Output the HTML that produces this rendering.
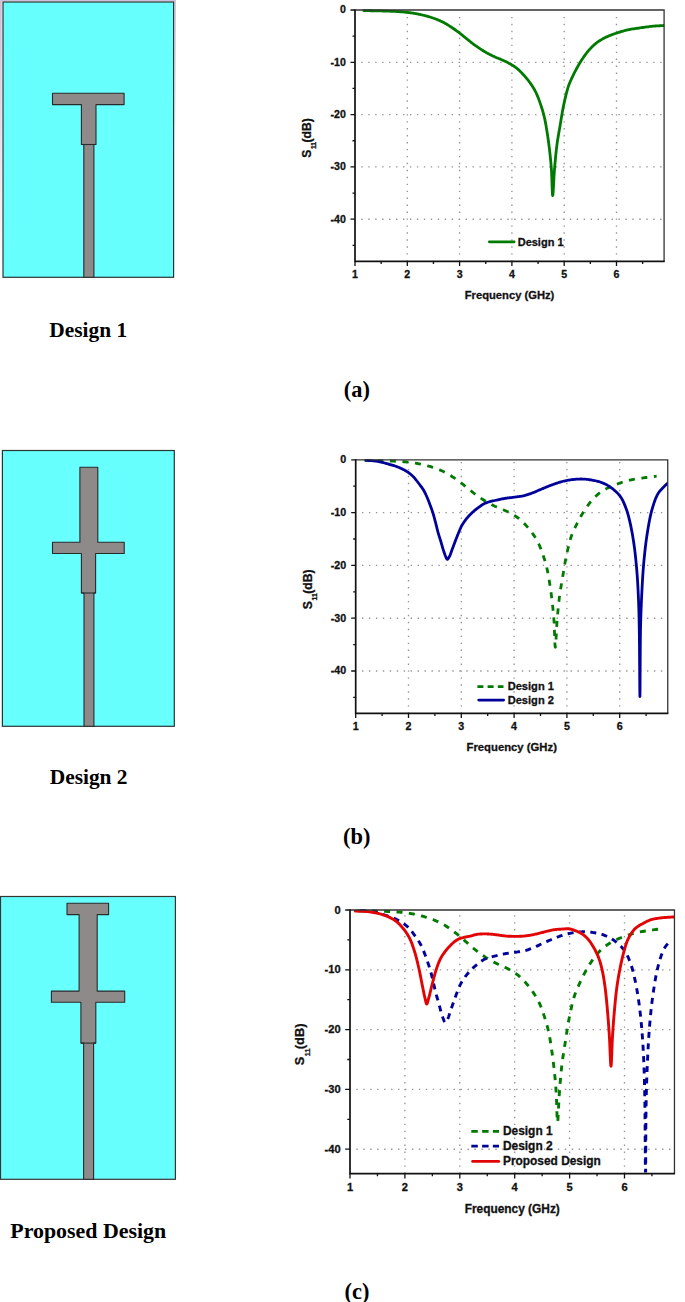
<!DOCTYPE html>
<html><head><meta charset="utf-8"><title>Antenna design evolution</title>
<style>
html,body{margin:0;padding:0;background:#fff;}
body{width:685px;height:1302px;position:relative;overflow:hidden;font-family:"Liberation Sans",sans-serif;}
</style></head><body>
<svg width="685" height="1302" viewBox="0 0 685 1302" style="position:absolute;left:0;top:0">
<defs><linearGradient id="lv" x1="0" y1="0" x2="0" y2="1"><stop offset="0" stop-color="#cdbfd6"/><stop offset="1" stop-color="#ffffff"/></linearGradient></defs>
<rect x="0" y="0" width="176" height="1.4" fill="#cfc2d8"/>
<rect x="0" y="0" width="1.8" height="278" fill="url(#lv)"/>
<rect x="174.3" y="0" width="1.6" height="150" fill="url(#lv)"/>
<rect x="3" y="2" width="170.6" height="275.3" fill="#68ffff" stroke="#2b3535" stroke-width="1.2"/>
<path d="M52.5 93.3 L124.1 93.3 L124.1 104.6 L96 104.6 L96 144.5 L93.9 144.5 L93.9 277.3 L83.8 277.3 L83.8 144.5 L81.4 144.5 L81.4 104.6 L52.5 104.6Z" fill="#8e8a8a" stroke="#2a2a2a" stroke-width="1.1" stroke-linejoin="round"/>
<path d="M81.4 144.5H96" stroke="#2a2a2a" stroke-width="1.1"/>
<rect x="2.4" y="450.5" width="171.9" height="275.8" fill="#68ffff" stroke="#2b3535" stroke-width="1.2"/>
<path d="M79.9 467.3 L97.8 467.3 L97.8 542.2 L124.2 542.2 L124.2 553.5 L95.6 553.5 L95.6 593 L93.9 593 L93.9 726.3 L84 726.3 L84 593 L81.4 593 L81.4 553.5 L52.5 553.5 L52.5 542.2 L79.9 542.2Z" fill="#8e8a8a" stroke="#2a2a2a" stroke-width="1.1" stroke-linejoin="round"/>
<path d="M81.4 593H95.6" stroke="#2a2a2a" stroke-width="1.1"/>
<rect x="0.5" y="896.5" width="174.9" height="282.8" fill="#68ffff" stroke="#3a3535" stroke-width="1.2"/>
<path d="M67 903.2 L108.6 903.2 L108.6 914.6 L97.2 914.6 L97.2 991.1 L124.7 991.1 L124.7 1002.2 L95.8 1002.2 L95.8 1043.1 L93.6 1043.1 L93.6 1179.3 L83.6 1179.3 L83.6 1043.1 L80.9 1043.1 L80.9 1002.2 L51.4 1002.2 L51.4 991.1 L79.1 991.1 L79.1 914.6 L67 914.6Z" fill="#8e8a8a" stroke="#2a2a2a" stroke-width="1.1" stroke-linejoin="round"/>
<path d="M80.9 1043.1H95.8" stroke="#2a2a2a" stroke-width="1.1"/>
<text x="49.3" y="336.7" font-size="21.4" font-family="Liberation Serif" font-weight="bold" fill="#000">Design 1</text>
<text x="49.7" y="783.9" font-size="21.4" font-family="Liberation Serif" font-weight="bold" fill="#000">Design 2</text>
<text x="10.3" y="1237.5" font-size="21.9" font-family="Liberation Serif" font-weight="bold" fill="#000">Proposed Design</text>
<text x="343.8" y="397.2" font-size="22.4" font-family="Liberation Serif" font-weight="bold" fill="#000">(a)</text>
<text x="343" y="844" font-size="22.4" font-family="Liberation Serif" font-weight="bold" fill="#000">(b)</text>
<text x="344.5" y="1298.5" font-size="22.4" font-family="Liberation Serif" font-weight="bold" fill="#000">(c)</text>
<clipPath id="ca"><rect x="355" y="8" width="309.09" height="252.41"/></clipPath>
<path d="M407.3 261.56V12M459.6 261.56V12M511.9 261.56V12M564.2 261.56V12M616.5 261.56V12M361.3 62.3H663.09M361.3 114.6H663.09M361.3 166.9H663.09M361.3 219.2H663.09" stroke="#959595" stroke-width="1.35" stroke-dasharray="1.4 5.55" fill="none"/>
<path d="M363.89 10.63 L365.61 10.66 L367.33 10.68 L369.05 10.71 L370.76 10.73 L372.47 10.76 L374.19 10.79 L375.92 10.82 L377.65 10.85 L379.39 10.89 L381.15 10.94 L383.04 11 L385 11.06 L387.01 11.13 L389.04 11.2 L391.06 11.28 L393.04 11.36 L394.95 11.45 L396.76 11.54 L398.45 11.63 L399.98 11.73 L400.85 11.79 L401.66 11.85 L402.43 11.91 L403.15 11.97 L403.85 12.04 L404.54 12.1 L405.21 12.17 L405.89 12.25 L406.58 12.32 L407.3 12.41 L408.03 12.49 L408.77 12.58 L409.5 12.66 L410.23 12.76 L410.96 12.85 L411.7 12.95 L412.43 13.05 L413.16 13.16 L413.89 13.28 L414.62 13.4 L415.36 13.53 L416.09 13.66 L416.82 13.8 L417.56 13.95 L418.29 14.1 L419.02 14.26 L419.75 14.42 L420.48 14.58 L421.21 14.75 L421.94 14.92 L422.67 15.09 L423.4 15.26 L424.13 15.44 L424.86 15.61 L425.59 15.8 L426.32 15.99 L427.04 16.18 L427.77 16.38 L428.49 16.59 L429.21 16.8 L429.94 17.02 L430.67 17.25 L431.4 17.49 L432.13 17.73 L432.86 17.97 L433.59 18.23 L434.31 18.49 L435.04 18.75 L435.76 19.03 L436.48 19.31 L437.22 19.6 L437.96 19.91 L438.7 20.21 L439.43 20.53 L440.17 20.85 L440.9 21.18 L441.63 21.52 L442.36 21.87 L443.08 22.23 L443.81 22.6 L444.54 23 L445.28 23.41 L446.01 23.83 L446.74 24.26 L447.46 24.7 L448.19 25.15 L448.91 25.6 L449.63 26.06 L450.35 26.53 L451.08 27 L451.81 27.48 L452.55 27.97 L453.29 28.47 L454.02 28.97 L454.76 29.48 L455.49 30 L456.22 30.52 L456.95 31.05 L457.67 31.58 L458.4 32.12 L459.14 32.68 L459.87 33.26 L460.61 33.84 L461.34 34.42 L462.07 35.02 L462.8 35.61 L463.53 36.21 L464.26 36.8 L464.99 37.39 L465.72 37.98 L466.45 38.56 L467.17 39.15 L467.9 39.74 L468.62 40.33 L469.34 40.92 L470.07 41.51 L470.79 42.09 L471.52 42.66 L472.25 43.23 L472.99 43.79 L473.71 44.32 L474.44 44.86 L475.17 45.38 L475.9 45.91 L476.63 46.42 L477.36 46.93 L478.1 47.44 L478.83 47.94 L479.57 48.43 L480.31 48.91 L481.03 49.38 L481.75 49.84 L482.48 50.3 L483.2 50.75 L483.92 51.19 L484.65 51.63 L485.38 52.06 L486.11 52.48 L486.84 52.9 L487.58 53.3 L488.31 53.7 L489.04 54.08 L489.78 54.47 L490.52 54.84 L491.26 55.21 L492 55.57 L492.74 55.92 L493.47 56.26 L494.19 56.59 L494.9 56.91 L495.54 57.19 L496.17 57.46 L496.8 57.71 L497.42 57.96 L498.04 58.2 L498.65 58.44 L499.26 58.68 L499.87 58.92 L500.47 59.17 L501.07 59.42 L501.65 59.68 L502.22 59.93 L502.79 60.18 L503.35 60.44 L503.91 60.7 L504.47 60.96 L505.02 61.22 L505.57 61.49 L506.12 61.76 L506.67 62.04 L507.2 62.31 L507.74 62.58 L508.26 62.86 L508.79 63.14 L509.31 63.42 L509.83 63.7 L510.35 63.99 L510.87 64.29 L511.39 64.6 L511.9 64.91 L512.43 65.25 L512.97 65.59 L513.5 65.94 L514.03 66.29 L514.56 66.65 L515.08 67.02 L515.6 67.4 L516.12 67.78 L516.63 68.17 L517.13 68.58 L517.63 68.99 L518.12 69.41 L518.6 69.84 L519.08 70.27 L519.55 70.71 L520.02 71.17 L520.5 71.64 L520.99 72.13 L521.48 72.64 L521.99 73.18 L522.69 73.92 L523.41 74.7 L524.15 75.51 L524.9 76.36 L525.66 77.24 L526.42 78.14 L527.17 79.05 L527.91 79.97 L528.63 80.89 L529.32 81.81 L529.99 82.74 L530.65 83.67 L531.31 84.61 L531.95 85.56 L532.57 86.53 L533.19 87.51 L533.79 88.5 L534.37 89.51 L534.94 90.54 L535.49 91.59 L536.05 92.74 L536.6 93.92 L537.13 95.13 L537.64 96.36 L538.13 97.6 L538.6 98.86 L539.07 100.12 L539.52 101.38 L539.97 102.63 L540.4 103.88 L540.83 105.1 L541.23 106.31 L541.63 107.51 L542.02 108.72 L542.39 109.93 L542.76 111.15 L543.11 112.38 L543.46 113.64 L543.79 114.91 L544.12 116.22 L544.47 117.72 L544.8 119.25 L545.12 120.81 L545.43 122.38 L545.72 123.98 L546.01 125.6 L546.29 127.23 L546.56 128.87 L546.83 130.52 L547.1 132.17 L547.38 133.96 L547.66 135.77 L547.93 137.59 L548.19 139.43 L548.44 141.29 L548.69 143.15 L548.93 145.01 L549.16 146.88 L549.39 148.73 L549.61 150.58 L549.82 152.41 L550.02 154.21 L550.21 155.99 L550.4 157.78 L550.58 159.57 L550.76 161.38 L550.92 163.21 L551.08 165.09 L551.24 167.01 L551.39 168.99 L551.55 171.7 L551.7 174.86 L551.83 178.31 L551.95 181.86 L552.06 185.35 L552.18 188.6 L552.29 191.43 L552.41 193.66 L552.55 195.13 L552.69 195.67 L552.85 195.15 L553.01 193.73 L553.18 191.55 L553.35 188.78 L553.53 185.59 L553.71 182.14 L553.9 178.59 L554.1 175.11 L554.31 171.85 L554.52 168.99 L554.74 166.48 L554.95 163.97 L555.18 161.46 L555.41 158.96 L555.64 156.47 L555.89 154 L556.14 151.57 L556.41 149.17 L556.69 146.82 L556.98 144.52 L557.25 142.56 L557.53 140.66 L557.82 138.8 L558.12 136.97 L558.42 135.16 L558.73 133.36 L559.05 131.55 L559.37 129.73 L559.69 127.89 L560.02 126 L560.36 123.95 L560.7 121.88 L561.04 119.78 L561.39 117.66 L561.74 115.54 L562.1 113.42 L562.47 111.3 L562.85 109.2 L563.26 107.13 L563.68 105.08 L564.1 103.12 L564.54 101.13 L564.99 99.12 L565.46 97.11 L565.94 95.13 L566.42 93.2 L566.91 91.34 L567.41 89.56 L567.9 87.89 L568.38 86.36 L568.7 85.42 L569.02 84.54 L569.33 83.72 L569.65 82.94 L569.97 82.19 L570.29 81.45 L570.62 80.72 L570.96 79.97 L571.31 79.21 L571.68 78.41 L572.1 77.49 L572.55 76.54 L573.01 75.58 L573.49 74.62 L573.97 73.65 L574.46 72.68 L574.95 71.73 L575.43 70.79 L575.91 69.88 L576.39 68.99 L576.79 68.25 L577.19 67.52 L577.58 66.8 L577.98 66.1 L578.37 65.41 L578.77 64.72 L579.17 64.04 L579.57 63.36 L579.99 62.68 L580.41 61.99 L580.86 61.28 L581.31 60.57 L581.76 59.85 L582.22 59.14 L582.69 58.44 L583.17 57.73 L583.65 57.03 L584.13 56.34 L584.62 55.66 L585.12 54.98 L585.61 54.32 L586.11 53.66 L586.61 53.01 L587.11 52.37 L587.62 51.73 L588.14 51.09 L588.67 50.46 L589.21 49.84 L589.77 49.22 L590.35 48.6 L590.99 47.93 L591.64 47.27 L592.31 46.61 L592.99 45.95 L593.68 45.29 L594.4 44.65 L595.12 44.02 L595.87 43.4 L596.63 42.8 L597.41 42.22 L598.26 41.62 L599.14 41.03 L600.05 40.46 L600.97 39.9 L601.91 39.36 L602.86 38.83 L603.82 38.32 L604.79 37.83 L605.76 37.35 L606.72 36.88 L607.67 36.44 L608.63 36.02 L609.59 35.62 L610.55 35.24 L611.52 34.86 L612.5 34.5 L613.49 34.15 L614.48 33.8 L615.49 33.46 L616.5 33.12 L617.58 32.76 L618.67 32.4 L619.77 32.05 L620.88 31.7 L622 31.37 L623.12 31.04 L624.25 30.73 L625.39 30.43 L626.54 30.14 L627.69 29.87 L628.89 29.62 L630.11 29.38 L631.33 29.16 L632.56 28.96 L633.79 28.77 L635.03 28.59 L636.28 28.41 L637.53 28.24 L638.78 28.06 L640.04 27.89 L641.33 27.7 L642.64 27.51 L643.96 27.33 L645.29 27.15 L646.62 26.97 L647.94 26.8 L649.26 26.64 L650.56 26.48 L651.85 26.34 L653.11 26.21 L654.25 26.11 L655.37 26.02 L656.47 25.94 L657.57 25.87 L658.66 25.8 L659.74 25.74 L660.83 25.68 L661.91 25.62 L663 25.55 L664.09 25.48" stroke="#007a00" stroke-width="2.8" fill="none" stroke-linejoin="round" stroke-linecap="round" clip-path="url(#ca)"/>
<path d="M355 10H664.09V261.41" stroke="#333" stroke-width="1.3" fill="none"/>
<path d="M355 9.4V261.41H664.69" stroke="#111" stroke-width="1.7" fill="none"/>
<path d="M355 261.41v4.5M407.3 261.41v4.5M459.6 261.41v4.5M511.9 261.41v4.5M564.2 261.41v4.5M616.5 261.41v4.5M381.15 261.41v2.5M433.45 261.41v2.5M485.75 261.41v2.5M538.05 261.41v2.5M590.35 261.41v2.5M642.65 261.41v2.5M355 10h-4.5M355 62.3h-4.5M355 114.6h-4.5M355 166.9h-4.5M355 219.2h-4.5M355 36.15h-2.5M355 88.45h-2.5M355 140.75h-2.5M355 193.05h-2.5M355 245.35h-2.5" stroke="#111" stroke-width="1.3" fill="none"/>
<g font-family="Liberation Sans" font-weight="bold" stroke="#111" stroke-width="0.3" font-size="10.6" fill="#111"><text x="345.9" y="13.32" text-anchor="end">0</text><text x="345.9" y="65.62" text-anchor="end">-10</text><text x="345.9" y="117.92" text-anchor="end">-20</text><text x="345.9" y="170.22" text-anchor="end">-30</text><text x="345.9" y="222.52" text-anchor="end">-40</text><text x="355" y="277.71" text-anchor="middle">1</text><text x="407.3" y="277.71" text-anchor="middle">2</text><text x="459.6" y="277.71" text-anchor="middle">3</text><text x="511.9" y="277.71" text-anchor="middle">4</text><text x="564.2" y="277.71" text-anchor="middle">5</text><text x="616.5" y="277.71" text-anchor="middle">6</text></g>
<text x="509.55" y="298.8" text-anchor="middle" font-family="Liberation Sans" font-weight="bold" stroke="#111" stroke-width="0.3" font-size="11.2" fill="#111">Frequency (GHz)</text>
<text transform="translate(310.7 138) rotate(-90)" text-anchor="middle" font-family="Liberation Sans" font-weight="bold" stroke="#111" stroke-width="0.3" font-size="12.1" fill="#111">S<tspan font-size="6.65" dy="5.08" dx="0.6">11</tspan><tspan dy="-5.08" dx="-0.5">(dB)</tspan></text>
<path d="M489.3 241.8H514.2" stroke="#007a00" stroke-width="2.7" stroke-linecap="round" fill="none"/>
<text x="517.7" y="245.5" font-family="Liberation Sans" font-weight="bold" stroke="#111" stroke-width="0.3" font-size="11" fill="#111">Design 1</text>
<clipPath id="cb"><rect x="355.7" y="457.8" width="312.05" height="254.6"/></clipPath>
<path d="M408.5 713.55V461.8M461.3 713.55V461.8M514.1 713.55V461.8M566.9 713.55V461.8M619.7 713.55V461.8M362 512.6H666.75M362 565.4H666.75M362 618.2H666.75M362 671H666.75" stroke="#959595" stroke-width="1.35" stroke-dasharray="1.4 5.55" fill="none"/>
<path d="M364.68 460.43 L366.42 460.46 L368.15 460.49 L369.88 460.52 L371.61 460.54 L373.34 460.57 L375.08 460.59 L376.82 460.62 L378.57 460.66 L380.33 460.7 L382.1 460.75 L384.01 460.81 L385.99 460.87 L388.02 460.94 L390.07 461.02 L392.1 461.09 L394.1 461.18 L396.03 461.26 L397.86 461.35 L399.56 461.45 L401.11 461.54 L401.99 461.6 L402.81 461.67 L403.58 461.73 L404.31 461.79 L405.02 461.86 L405.71 461.92 L406.39 462 L407.08 462.07 L407.78 462.15 L408.5 462.23 L409.24 462.31 L409.98 462.4 L410.72 462.49 L411.46 462.58 L412.2 462.68 L412.94 462.78 L413.68 462.88 L414.42 462.99 L415.15 463.11 L415.89 463.23 L416.63 463.36 L417.37 463.5 L418.12 463.64 L418.86 463.79 L419.6 463.94 L420.33 464.1 L421.07 464.26 L421.81 464.43 L422.55 464.59 L423.28 464.76 L424.02 464.94 L424.76 465.11 L425.49 465.29 L426.23 465.47 L426.96 465.65 L427.7 465.84 L428.43 466.04 L429.16 466.24 L429.89 466.45 L430.62 466.66 L431.36 466.89 L432.1 467.12 L432.83 467.36 L433.57 467.6 L434.3 467.85 L435.04 468.1 L435.77 468.37 L436.5 468.64 L437.23 468.91 L437.96 469.2 L438.71 469.5 L439.45 469.8 L440.2 470.11 L440.94 470.43 L441.68 470.75 L442.42 471.09 L443.16 471.43 L443.89 471.79 L444.63 472.15 L445.35 472.52 L446.1 472.92 L446.84 473.34 L447.58 473.76 L448.32 474.2 L449.05 474.64 L449.78 475.09 L450.51 475.55 L451.24 476.02 L451.97 476.49 L452.69 476.96 L453.44 477.45 L454.18 477.94 L454.93 478.45 L455.67 478.96 L456.41 479.47 L457.15 479.99 L457.89 480.52 L458.62 481.05 L459.35 481.59 L460.09 482.13 L460.83 482.7 L461.58 483.28 L462.32 483.86 L463.06 484.46 L463.79 485.05 L464.53 485.65 L465.27 486.26 L466 486.86 L466.74 487.46 L467.48 488.05 L468.21 488.64 L468.94 489.23 L469.67 489.83 L470.41 490.42 L471.14 491.02 L471.87 491.61 L472.6 492.19 L473.34 492.77 L474.07 493.35 L474.82 493.91 L475.55 494.45 L476.28 494.99 L477.02 495.52 L477.75 496.05 L478.49 496.57 L479.23 497.09 L479.97 497.6 L480.72 498.1 L481.46 498.59 L482.21 499.08 L482.94 499.55 L483.66 500.02 L484.39 500.48 L485.13 500.94 L485.86 501.38 L486.59 501.83 L487.33 502.26 L488.07 502.69 L488.81 503.11 L489.55 503.52 L490.28 503.91 L491.02 504.31 L491.77 504.69 L492.52 505.07 L493.26 505.44 L494.01 505.8 L494.75 506.16 L495.49 506.5 L496.22 506.84 L496.94 507.16 L497.58 507.44 L498.22 507.71 L498.85 507.97 L499.48 508.22 L500.1 508.46 L500.73 508.7 L501.34 508.94 L501.95 509.19 L502.56 509.44 L503.17 509.7 L503.75 509.95 L504.33 510.21 L504.9 510.46 L505.47 510.72 L506.03 510.98 L506.6 511.25 L507.16 511.51 L507.71 511.78 L508.27 512.06 L508.82 512.34 L509.36 512.61 L509.9 512.89 L510.43 513.16 L510.96 513.44 L511.49 513.73 L512.01 514.02 L512.54 514.31 L513.06 514.61 L513.58 514.92 L514.1 515.24 L514.64 515.58 L515.18 515.92 L515.71 516.27 L516.25 516.63 L516.78 516.99 L517.31 517.36 L517.84 517.74 L518.36 518.13 L518.87 518.53 L519.38 518.94 L519.89 519.36 L520.38 519.78 L520.87 520.21 L521.35 520.65 L521.82 521.09 L522.3 521.55 L522.78 522.03 L523.27 522.52 L523.77 523.04 L524.29 523.58 L524.99 524.33 L525.72 525.11 L526.46 525.94 L527.22 526.8 L527.99 527.68 L528.76 528.59 L529.52 529.51 L530.26 530.44 L530.99 531.37 L531.68 532.29 L532.36 533.23 L533.03 534.17 L533.69 535.13 L534.34 536.09 L534.97 537.06 L535.59 538.05 L536.2 539.05 L536.79 540.07 L537.36 541.11 L537.91 542.17 L538.49 543.33 L539.04 544.52 L539.57 545.74 L540.08 546.98 L540.58 548.24 L541.06 549.51 L541.53 550.78 L541.99 552.05 L542.44 553.32 L542.88 554.58 L543.3 555.81 L543.71 557.03 L544.12 558.24 L544.51 559.46 L544.88 560.68 L545.25 561.91 L545.61 563.16 L545.96 564.43 L546.3 565.72 L546.62 567.04 L546.98 568.55 L547.32 570.09 L547.64 571.66 L547.95 573.26 L548.25 574.87 L548.54 576.5 L548.82 578.15 L549.09 579.81 L549.36 581.47 L549.63 583.14 L549.92 584.94 L550.2 586.77 L550.47 588.61 L550.73 590.47 L550.99 592.34 L551.24 594.22 L551.48 596.1 L551.72 597.98 L551.95 599.86 L552.17 601.73 L552.38 603.57 L552.58 605.39 L552.78 607.19 L552.97 608.99 L553.15 610.8 L553.33 612.63 L553.5 614.48 L553.66 616.37 L553.81 618.31 L553.96 620.31 L554.13 623.04 L554.28 626.24 L554.41 629.72 L554.53 633.31 L554.65 636.83 L554.76 640.1 L554.88 642.96 L555 645.22 L555.13 646.7 L555.28 647.24 L555.44 646.72 L555.61 645.28 L555.78 643.08 L555.95 640.29 L556.13 637.07 L556.31 633.58 L556.51 630 L556.71 626.48 L556.91 623.2 L557.13 620.31 L557.35 617.78 L557.57 615.24 L557.79 612.71 L558.02 610.18 L558.26 607.67 L558.51 605.18 L558.77 602.72 L559.04 600.3 L559.32 597.92 L559.61 595.6 L559.88 593.63 L560.17 591.71 L560.46 589.83 L560.76 587.99 L561.07 586.16 L561.38 584.34 L561.7 582.52 L562.02 580.68 L562.35 578.81 L562.68 576.91 L563.02 574.84 L563.37 572.75 L563.71 570.63 L564.06 568.49 L564.41 566.35 L564.78 564.2 L565.15 562.07 L565.54 559.95 L565.95 557.85 L566.37 555.79 L566.8 553.81 L567.24 551.8 L567.7 549.77 L568.17 547.75 L568.66 545.75 L569.15 543.8 L569.64 541.91 L570.14 540.12 L570.63 538.44 L571.12 536.89 L571.45 535.94 L571.77 535.06 L572.08 534.23 L572.4 533.44 L572.72 532.68 L573.05 531.93 L573.38 531.19 L573.72 530.44 L574.08 529.67 L574.45 528.86 L574.88 527.93 L575.33 526.98 L575.8 526.01 L576.28 525.04 L576.76 524.06 L577.26 523.08 L577.75 522.12 L578.24 521.17 L578.73 520.25 L579.2 519.36 L579.61 518.6 L580.01 517.87 L580.41 517.15 L580.81 516.44 L581.2 515.74 L581.6 515.05 L582.01 514.36 L582.42 513.67 L582.84 512.98 L583.27 512.28 L583.72 511.57 L584.17 510.85 L584.63 510.13 L585.1 509.41 L585.57 508.7 L586.05 507.99 L586.53 507.28 L587.02 506.58 L587.52 505.89 L588.02 505.21 L588.52 504.54 L589.02 503.88 L589.52 503.22 L590.03 502.57 L590.54 501.93 L591.07 501.29 L591.6 500.65 L592.15 500.02 L592.72 499.39 L593.3 498.77 L593.94 498.1 L594.6 497.43 L595.27 496.76 L595.96 496.09 L596.67 495.43 L597.38 494.78 L598.12 494.14 L598.87 493.52 L599.64 492.91 L600.43 492.32 L601.29 491.72 L602.18 491.13 L603.09 490.55 L604.02 489.99 L604.97 489.44 L605.93 488.91 L606.9 488.39 L607.88 487.89 L608.85 487.41 L609.83 486.94 L610.79 486.49 L611.75 486.07 L612.72 485.67 L613.69 485.28 L614.68 484.9 L615.66 484.54 L616.66 484.18 L617.66 483.83 L618.68 483.48 L619.7 483.14 L620.79 482.77 L621.89 482.41 L623 482.06 L624.12 481.71 L625.25 481.37 L626.38 481.04 L627.53 480.73 L628.68 480.42 L629.84 480.13 L631 479.86 L632.21 479.6 L633.44 479.37 L634.67 479.15 L635.91 478.94 L637.16 478.75 L638.41 478.57 L639.67 478.39 L640.93 478.21 L642.19 478.04 L643.46 477.86 L644.76 477.67 L646.07 477.5 L647.39 477.32 L648.71 477.15 L650.03 476.99 L651.36 476.83 L652.69 476.66 L654.01 476.5 L655.34 476.34 L656.66 476.17" stroke="#007a00" stroke-width="2.8" fill="none" stroke-linejoin="round" stroke-linecap="butt" clip-path="url(#cb)" stroke-dasharray="6 6.6"/>
<path d="M365.78 460.28 L366.96 460.38 L368.13 460.47 L369.31 460.55 L370.48 460.63 L371.66 460.72 L372.83 460.81 L374 460.92 L375.17 461.05 L376.34 461.2 L377.51 461.38 L378.69 461.6 L379.87 461.84 L381.06 462.11 L382.25 462.39 L383.44 462.7 L384.62 463.01 L385.78 463.33 L386.93 463.65 L388.07 463.97 L389.18 464.29 L390.16 464.57 L391.13 464.85 L392.09 465.12 L393.04 465.4 L393.97 465.69 L394.9 465.98 L395.82 466.29 L396.73 466.61 L397.63 466.94 L398.52 467.3 L399.38 467.66 L400.24 468.03 L401.09 468.41 L401.94 468.81 L402.77 469.22 L403.6 469.64 L404.4 470.07 L405.19 470.51 L405.96 470.96 L406.7 471.42 L407.36 471.83 L407.99 472.26 L408.6 472.68 L409.2 473.11 L409.79 473.56 L410.36 474.01 L410.93 474.48 L411.5 474.97 L412.06 475.48 L412.62 476.01 L413.23 476.62 L413.83 477.26 L414.43 477.93 L415.01 478.61 L415.59 479.32 L416.16 480.03 L416.73 480.76 L417.3 481.5 L417.86 482.24 L418.43 482.98 L419.02 483.75 L419.61 484.52 L420.2 485.29 L420.79 486.07 L421.37 486.86 L421.95 487.67 L422.52 488.5 L423.08 489.37 L423.64 490.27 L424.18 491.22 L424.85 492.48 L425.52 493.84 L426.18 495.28 L426.83 496.78 L427.47 498.3 L428.09 499.83 L428.69 501.34 L429.26 502.8 L429.8 504.21 L430.31 505.52 L430.67 506.48 L431.01 507.4 L431.34 508.28 L431.64 509.15 L431.94 510 L432.22 510.84 L432.5 511.69 L432.77 512.54 L433.04 513.4 L433.32 514.29 L433.6 515.23 L433.87 516.18 L434.14 517.15 L434.4 518.11 L434.66 519.09 L434.91 520.06 L435.16 521.03 L435.41 521.99 L435.66 522.95 L435.9 523.9 L436.13 524.8 L436.36 525.69 L436.57 526.58 L436.79 527.46 L437 528.34 L437.21 529.22 L437.43 530.09 L437.65 530.97 L437.88 531.84 L438.12 532.72 L438.37 533.59 L438.63 534.46 L438.9 535.32 L439.17 536.19 L439.44 537.05 L439.72 537.91 L440 538.78 L440.28 539.64 L440.55 540.51 L440.81 541.38 L441.08 542.26 L441.34 543.16 L441.6 544.07 L441.85 544.98 L442.11 545.88 L442.37 546.78 L442.62 547.67 L442.88 548.54 L443.14 549.38 L443.4 550.19 L443.62 550.86 L443.84 551.53 L444.06 552.19 L444.28 552.84 L444.5 553.47 L444.72 554.09 L444.94 554.69 L445.17 555.26 L445.39 555.8 L445.62 556.32 L445.78 556.69 L445.95 557.09 L446.11 557.49 L446.27 557.89 L446.43 558.26 L446.6 558.6 L446.77 558.89 L446.94 559.12 L447.12 559.27 L447.31 559.33 L447.51 559.29 L447.73 559.15 L447.95 558.94 L448.17 558.65 L448.4 558.32 L448.64 557.94 L448.86 557.54 L449.09 557.12 L449.31 556.71 L449.53 556.32 L449.82 555.75 L450.1 555.13 L450.37 554.46 L450.64 553.76 L450.9 553.04 L451.16 552.29 L451.42 551.54 L451.68 550.78 L451.95 550.03 L452.22 549.3 L452.51 548.52 L452.8 547.74 L453.09 546.95 L453.39 546.16 L453.68 545.36 L453.98 544.56 L454.27 543.76 L454.57 542.96 L454.87 542.17 L455.18 541.38 L455.48 540.59 L455.78 539.8 L456.09 539.01 L456.39 538.22 L456.7 537.43 L457.01 536.65 L457.33 535.86 L457.64 535.08 L457.96 534.29 L458.29 533.51 L458.62 532.72 L458.95 531.92 L459.27 531.13 L459.6 530.33 L459.94 529.53 L460.28 528.74 L460.64 527.96 L461 527.19 L461.38 526.44 L461.78 525.69 L462.17 524.99 L462.58 524.3 L463 523.62 L463.43 522.95 L463.87 522.29 L464.33 521.63 L464.79 520.99 L465.25 520.35 L465.73 519.72 L466.21 519.09 L466.69 518.49 L467.18 517.89 L467.68 517.31 L468.18 516.73 L468.69 516.16 L469.21 515.59 L469.74 515.04 L470.28 514.48 L470.83 513.94 L471.38 513.39 L471.97 512.84 L472.56 512.29 L473.16 511.74 L473.77 511.21 L474.39 510.67 L475.02 510.15 L475.65 509.63 L476.3 509.12 L476.95 508.61 L477.62 508.11 L478.31 507.59 L479.01 507.07 L479.71 506.55 L480.43 506.04 L481.15 505.53 L481.89 505.04 L482.64 504.57 L483.41 504.12 L484.2 503.7 L485.01 503.31 L485.9 502.93 L486.83 502.58 L487.77 502.27 L488.74 501.98 L489.72 501.71 L490.72 501.46 L491.72 501.22 L492.73 500.98 L493.73 500.75 L494.72 500.51 L495.74 500.26 L496.76 500.02 L497.8 499.79 L498.84 499.57 L499.88 499.35 L500.92 499.14 L501.96 498.94 L502.99 498.75 L504.01 498.57 L505.02 498.4 L505.96 498.25 L506.89 498.11 L507.81 497.98 L508.73 497.86 L509.64 497.75 L510.55 497.64 L511.46 497.53 L512.38 497.42 L513.29 497.31 L514.21 497.18 L515.13 497.06 L516.06 496.94 L516.98 496.82 L517.92 496.71 L518.84 496.59 L519.77 496.46 L520.69 496.32 L521.6 496.17 L522.5 496 L523.39 495.81 L524.23 495.61 L525.05 495.4 L525.86 495.17 L526.66 494.94 L527.45 494.69 L528.25 494.43 L529.05 494.16 L529.86 493.87 L530.68 493.58 L531.52 493.28 L532.5 492.91 L533.5 492.51 L534.51 492.1 L535.52 491.66 L536.55 491.22 L537.58 490.77 L538.62 490.32 L539.65 489.87 L540.69 489.43 L541.71 489 L542.74 488.58 L543.77 488.15 L544.79 487.73 L545.82 487.31 L546.85 486.89 L547.88 486.47 L548.91 486.06 L549.95 485.66 L550.98 485.26 L552.01 484.88 L553.03 484.51 L554.04 484.14 L555.06 483.77 L556.07 483.41 L557.09 483.06 L558.11 482.72 L559.13 482.39 L560.15 482.07 L561.17 481.78 L562.2 481.5 L563.22 481.25 L564.24 481.01 L565.28 480.79 L566.31 480.58 L567.35 480.38 L568.38 480.2 L569.41 480.03 L570.42 479.87 L571.41 479.73 L572.39 479.6 L573.24 479.49 L574.08 479.4 L574.91 479.31 L575.72 479.24 L576.53 479.17 L577.34 479.12 L578.14 479.08 L578.95 479.04 L579.76 479.03 L580.58 479.02 L581.39 479.02 L582.2 479.04 L583.01 479.07 L583.81 479.1 L584.62 479.15 L585.43 479.22 L586.25 479.29 L587.09 479.38 L587.94 479.48 L588.81 479.6 L589.87 479.75 L590.96 479.92 L592.09 480.1 L593.22 480.29 L594.38 480.51 L595.53 480.75 L596.68 481.01 L597.81 481.3 L598.92 481.62 L600.01 481.98 L601.05 482.35 L602.08 482.74 L603.1 483.16 L604.12 483.61 L605.12 484.07 L606.11 484.57 L607.09 485.1 L608.06 485.66 L609.03 486.26 L609.98 486.89 L611.04 487.62 L612.1 488.4 L613.17 489.22 L614.22 490.08 L615.26 490.98 L616.28 491.91 L617.26 492.87 L618.2 493.86 L619.08 494.87 L619.91 495.92 L620.68 496.99 L621.39 498.1 L622.06 499.25 L622.68 500.43 L623.27 501.63 L623.83 502.86 L624.36 504.11 L624.88 505.37 L625.38 506.63 L625.88 507.9 L626.37 509.22 L626.84 510.55 L627.27 511.88 L627.68 513.23 L628.07 514.59 L628.44 515.98 L628.81 517.4 L629.17 518.86 L629.53 520.35 L629.89 521.89 L630.34 523.87 L630.78 525.9 L631.21 528 L631.63 530.16 L632.04 532.36 L632.44 534.59 L632.82 536.86 L633.2 539.16 L633.56 541.48 L633.9 543.8 L634.27 546.46 L634.63 549.17 L634.97 551.94 L635.29 554.74 L635.6 557.57 L635.89 560.42 L636.16 563.28 L636.43 566.13 L636.68 568.97 L636.91 571.79 L637.13 574.58 L637.33 577.36 L637.52 580.14 L637.69 582.91 L637.84 585.69 L637.99 588.48 L638.13 591.27 L638.25 594.07 L638.38 596.89 L638.5 599.72 L638.61 602.61 L638.71 605.44 L638.81 608.24 L638.89 611.03 L638.96 613.86 L639.03 616.75 L639.1 619.73 L639.16 622.85 L639.23 626.13 L639.29 629.6 L639.38 635.82 L639.46 643.42 L639.53 651.93 L639.59 660.87 L639.65 669.75 L639.7 678.1 L639.76 685.43 L639.81 691.26 L639.86 695.11 L639.92 696.5 L639.98 695.11 L640.02 691.26 L640.07 685.43 L640.11 678.1 L640.15 669.75 L640.19 660.87 L640.25 651.93 L640.32 643.42 L640.4 635.82 L640.5 629.6 L640.58 626.14 L640.66 622.9 L640.74 619.82 L640.83 616.88 L640.92 614.04 L641.02 611.24 L641.13 608.45 L641.24 605.63 L641.37 602.73 L641.51 599.72 L641.66 596.41 L641.82 593.04 L641.99 589.64 L642.16 586.21 L642.35 582.77 L642.55 579.33 L642.76 575.9 L642.99 572.5 L643.24 569.14 L643.51 565.82 L643.78 562.73 L644.06 559.65 L644.36 556.59 L644.66 553.55 L644.98 550.53 L645.32 547.53 L645.68 544.56 L646.06 541.6 L646.46 538.68 L646.89 535.78 L647.31 533.08 L647.74 530.36 L648.18 527.65 L648.64 524.96 L649.12 522.3 L649.62 519.68 L650.15 517.11 L650.71 514.62 L651.29 512.22 L651.91 509.91 L652.42 508.1 L652.95 506.31 L653.5 504.56 L654.05 502.84 L654.63 501.18 L655.23 499.57 L655.85 498.03 L656.5 496.57 L657.17 495.19 L657.87 493.91 L658.42 493.03 L658.99 492.21 L659.58 491.44 L660.19 490.7 L660.8 490.01 L661.42 489.34 L662.04 488.7 L662.64 488.08 L663.23 487.48 L663.79 486.89 L664.21 486.44 L664.62 486.02 L665.03 485.61 L665.43 485.22 L665.83 484.85 L666.22 484.48 L666.61 484.11 L667.01 483.74 L667.4 483.36 L667.8 482.98" stroke="#00009a" stroke-width="2.8" fill="none" stroke-linejoin="round" stroke-linecap="round" clip-path="url(#cb)"/>
<path d="M355.7 459.8H667.75V713.4" stroke="#333" stroke-width="1.3" fill="none"/>
<path d="M355.7 459.2V713.4H668.35" stroke="#111" stroke-width="1.7" fill="none"/>
<path d="M355.7 713.4v4.5M408.5 713.4v4.5M461.3 713.4v4.5M514.1 713.4v4.5M566.9 713.4v4.5M619.7 713.4v4.5M382.1 713.4v2.5M434.9 713.4v2.5M487.7 713.4v2.5M540.5 713.4v2.5M593.3 713.4v2.5M646.1 713.4v2.5M355.7 459.8h-4.5M355.7 512.6h-4.5M355.7 565.4h-4.5M355.7 618.2h-4.5M355.7 671h-4.5M355.7 486.2h-2.5M355.7 539h-2.5M355.7 591.8h-2.5M355.7 644.6h-2.5M355.7 697.4h-2.5" stroke="#111" stroke-width="1.3" fill="none"/>
<g font-family="Liberation Sans" font-weight="bold" stroke="#111" stroke-width="0.3" font-size="10.7" fill="#111"><text x="346.2" y="463.15" text-anchor="end">0</text><text x="346.2" y="515.95" text-anchor="end">-10</text><text x="346.2" y="568.75" text-anchor="end">-20</text><text x="346.2" y="621.55" text-anchor="end">-30</text><text x="346.2" y="674.35" text-anchor="end">-40</text><text x="355.7" y="730" text-anchor="middle">1</text><text x="408.5" y="730" text-anchor="middle">2</text><text x="461.3" y="730" text-anchor="middle">3</text><text x="514.1" y="730" text-anchor="middle">4</text><text x="566.9" y="730" text-anchor="middle">5</text><text x="619.7" y="730" text-anchor="middle">6</text></g>
<text x="511.72" y="751" text-anchor="middle" font-family="Liberation Sans" font-weight="bold" stroke="#111" stroke-width="0.3" font-size="11.3" fill="#111">Frequency (GHz)</text>
<text transform="translate(312 589.3) rotate(-90)" text-anchor="middle" font-family="Liberation Sans" font-weight="bold" stroke="#111" stroke-width="0.3" font-size="12.2" fill="#111">S<tspan font-size="6.71" dy="5.13" dx="0.6">11</tspan><tspan dy="-5.13" dx="-0.5">(dB)</tspan></text>
<path d="M477.4 686.6H503.5" stroke="#007a00" stroke-width="2.7" stroke-linecap="butt" fill="none" stroke-dasharray="6 4.2"/>
<text x="507.7" y="690.3" font-family="Liberation Sans" font-weight="bold" stroke="#111" stroke-width="0.3" font-size="11.1" fill="#111">Design 1</text>
<path d="M478.7 700.1H503.7" stroke="#00009a" stroke-width="2.7" stroke-linecap="round" fill="none"/>
<text x="507.7" y="704.1" font-family="Liberation Sans" font-weight="bold" stroke="#111" stroke-width="0.3" font-size="11.1" fill="#111">Design 2</text>
<clipPath id="cc"><rect x="350" y="908" width="324.46" height="264.6"/></clipPath>
<path d="M404.9 1173.75V912M459.8 1173.75V912M514.7 1173.75V912M569.6 1173.75V912M624.5 1173.75V912M356.3 969.8H673.46M356.3 1029.6H673.46M356.3 1089.4H673.46M356.3 1149.2H673.46" stroke="#959595" stroke-width="1.35" stroke-dasharray="1.4 5.55" fill="none"/>
<path d="M359.33 910.72 L361.14 910.75 L362.94 910.78 L364.74 910.81 L366.54 910.84 L368.34 910.87 L370.15 910.9 L371.96 910.93 L373.78 910.97 L375.61 911.02 L377.45 911.08 L379.43 911.14 L381.5 911.21 L383.61 911.29 L385.74 911.38 L387.85 911.46 L389.93 911.56 L391.93 911.66 L393.84 911.76 L395.61 911.86 L397.21 911.97 L398.13 912.04 L398.98 912.11 L399.78 912.18 L400.55 912.26 L401.28 912.33 L402 912.41 L402.71 912.49 L403.42 912.57 L404.15 912.66 L404.9 912.75 L405.67 912.85 L406.44 912.95 L407.21 913.05 L407.98 913.15 L408.75 913.26 L409.52 913.37 L410.28 913.49 L411.05 913.62 L411.82 913.75 L412.59 913.89 L413.36 914.03 L414.13 914.19 L414.9 914.35 L415.67 914.52 L416.44 914.69 L417.21 914.87 L417.97 915.05 L418.74 915.24 L419.51 915.43 L420.27 915.62 L421.04 915.82 L421.8 916.01 L422.57 916.22 L423.34 916.42 L424.1 916.63 L424.86 916.84 L425.62 917.07 L426.38 917.29 L427.14 917.53 L427.9 917.77 L428.67 918.03 L429.44 918.29 L430.2 918.56 L430.97 918.83 L431.73 919.12 L432.5 919.41 L433.26 919.7 L434.02 920.01 L434.78 920.32 L435.53 920.64 L436.31 920.98 L437.08 921.33 L437.86 921.68 L438.63 922.04 L439.4 922.41 L440.17 922.79 L440.94 923.18 L441.7 923.58 L442.46 923.99 L443.22 924.41 L444 924.86 L444.77 925.33 L445.54 925.81 L446.3 926.31 L447.07 926.81 L447.83 927.32 L448.58 927.84 L449.34 928.37 L450.1 928.9 L450.85 929.43 L451.63 929.99 L452.4 930.55 L453.18 931.12 L453.95 931.7 L454.72 932.28 L455.49 932.87 L456.25 933.47 L457.02 934.07 L457.78 934.68 L458.54 935.3 L459.31 935.94 L460.09 936.59 L460.86 937.26 L461.63 937.93 L462.39 938.6 L463.16 939.28 L463.93 939.96 L464.69 940.64 L465.46 941.32 L466.22 941.99 L466.99 942.66 L467.75 943.33 L468.51 944.01 L469.27 944.68 L470.03 945.35 L470.79 946.02 L471.55 946.69 L472.31 947.35 L473.08 947.99 L473.85 948.63 L474.61 949.25 L475.37 949.85 L476.14 950.46 L476.9 951.05 L477.67 951.64 L478.44 952.23 L479.22 952.8 L479.99 953.37 L480.76 953.94 L481.54 954.49 L482.3 955.02 L483.05 955.55 L483.81 956.07 L484.57 956.59 L485.33 957.09 L486.09 957.6 L486.86 958.09 L487.63 958.57 L488.4 959.05 L489.17 959.51 L489.93 959.96 L490.7 960.4 L491.48 960.84 L492.25 961.27 L493.03 961.69 L493.81 962.1 L494.58 962.5 L495.35 962.89 L496.11 963.27 L496.86 963.64 L497.52 963.96 L498.19 964.26 L498.84 964.55 L499.5 964.84 L500.15 965.11 L500.79 965.38 L501.43 965.66 L502.07 965.93 L502.71 966.22 L503.34 966.51 L503.94 966.8 L504.54 967.09 L505.13 967.38 L505.73 967.67 L506.31 967.97 L506.9 968.27 L507.48 968.57 L508.06 968.88 L508.64 969.19 L509.21 969.5 L509.77 969.81 L510.33 970.13 L510.89 970.44 L511.44 970.76 L511.99 971.08 L512.53 971.41 L513.08 971.74 L513.62 972.08 L514.16 972.43 L514.7 972.79 L515.26 973.17 L515.82 973.56 L516.38 973.96 L516.94 974.36 L517.49 974.78 L518.04 975.2 L518.59 975.63 L519.13 976.07 L519.66 976.52 L520.19 976.98 L520.72 977.45 L521.24 977.94 L521.74 978.42 L522.24 978.92 L522.74 979.42 L523.23 979.94 L523.73 980.48 L524.24 981.04 L524.76 981.63 L525.3 982.24 L526.02 983.08 L526.78 983.98 L527.56 984.91 L528.35 985.89 L529.15 986.89 L529.95 987.91 L530.74 988.96 L531.51 990.01 L532.26 991.06 L532.98 992.11 L533.69 993.17 L534.39 994.24 L535.08 995.32 L535.75 996.41 L536.41 997.51 L537.05 998.63 L537.68 999.76 L538.29 1000.92 L538.88 1002.09 L539.46 1003.29 L540.06 1004.61 L540.63 1005.96 L541.18 1007.34 L541.72 1008.75 L542.23 1010.17 L542.73 1011.6 L543.22 1013.04 L543.7 1014.48 L544.16 1015.92 L544.62 1017.34 L545.06 1018.73 L545.49 1020.12 L545.91 1021.5 L546.32 1022.88 L546.71 1024.26 L547.09 1025.66 L547.46 1027.07 L547.83 1028.5 L548.18 1029.96 L548.52 1031.45 L548.89 1033.17 L549.24 1034.92 L549.57 1036.7 L549.9 1038.5 L550.21 1040.33 L550.51 1042.18 L550.8 1044.04 L551.08 1045.92 L551.37 1047.8 L551.65 1049.69 L551.94 1051.73 L552.23 1053.8 L552.52 1055.89 L552.79 1058 L553.06 1060.12 L553.32 1062.24 L553.57 1064.37 L553.82 1066.5 L554.05 1068.63 L554.28 1070.74 L554.5 1072.83 L554.72 1074.89 L554.92 1076.93 L555.12 1078.97 L555.31 1081.02 L555.49 1083.09 L555.66 1085.19 L555.83 1087.33 L555.99 1089.53 L556.15 1091.79 L556.32 1094.89 L556.48 1098.5 L556.61 1102.44 L556.74 1106.51 L556.86 1110.5 L556.98 1114.21 L557.1 1117.44 L557.23 1120 L557.37 1121.68 L557.52 1122.29 L557.69 1121.71 L557.86 1120.07 L558.03 1117.58 L558.21 1114.42 L558.4 1110.77 L558.59 1106.82 L558.79 1102.76 L559 1098.78 L559.22 1095.06 L559.44 1091.79 L559.67 1088.93 L559.9 1086.05 L560.13 1083.18 L560.37 1080.32 L560.62 1077.47 L560.87 1074.65 L561.14 1071.87 L561.42 1069.13 L561.72 1066.44 L562.02 1063.81 L562.31 1061.57 L562.6 1059.4 L562.9 1057.27 L563.21 1055.18 L563.54 1053.11 L563.86 1051.05 L564.19 1048.99 L564.53 1046.9 L564.87 1044.79 L565.21 1042.64 L565.57 1040.3 L565.92 1037.92 L566.28 1035.52 L566.65 1033.1 L567.01 1030.67 L567.39 1028.25 L567.78 1025.83 L568.19 1023.43 L568.61 1021.06 L569.05 1018.72 L569.49 1016.48 L569.95 1014.2 L570.43 1011.9 L570.92 1009.61 L571.42 1007.35 L571.93 1005.14 L572.45 1003 L572.96 1000.97 L573.48 999.07 L573.99 997.31 L574.33 996.24 L574.66 995.24 L574.99 994.3 L575.32 993.41 L575.65 992.55 L575.99 991.7 L576.34 990.86 L576.69 990.01 L577.06 989.13 L577.45 988.22 L577.9 987.17 L578.37 986.09 L578.85 984.99 L579.35 983.89 L579.85 982.78 L580.37 981.67 L580.88 980.58 L581.39 979.51 L581.9 978.47 L582.39 977.45 L582.82 976.6 L583.23 975.77 L583.65 974.95 L584.06 974.15 L584.47 973.36 L584.89 972.57 L585.31 971.79 L585.74 971.01 L586.17 970.23 L586.62 969.44 L587.08 968.63 L587.56 967.82 L588.03 967.01 L588.52 966.2 L589.01 965.39 L589.51 964.58 L590.01 963.78 L590.52 962.99 L591.04 962.2 L591.56 961.43 L592.08 960.67 L592.6 959.92 L593.12 959.18 L593.64 958.45 L594.18 957.72 L594.72 956.99 L595.28 956.27 L595.85 955.55 L596.44 954.84 L597.05 954.13 L597.72 953.38 L598.4 952.62 L599.1 951.86 L599.81 951.11 L600.54 950.36 L601.29 949.63 L602.05 948.9 L602.84 948.19 L603.64 947.5 L604.46 946.84 L605.35 946.15 L606.28 945.49 L607.22 944.83 L608.19 944.2 L609.18 943.58 L610.18 942.97 L611.19 942.39 L612.2 941.82 L613.22 941.27 L614.23 940.74 L615.23 940.24 L616.23 939.76 L617.24 939.3 L618.25 938.86 L619.27 938.43 L620.3 938.02 L621.33 937.61 L622.38 937.22 L623.43 936.82 L624.5 936.43 L625.63 936.02 L626.78 935.61 L627.93 935.21 L629.09 934.82 L630.26 934.43 L631.45 934.06 L632.64 933.7 L633.83 933.36 L635.04 933.03 L636.25 932.72 L637.51 932.43 L638.78 932.16 L640.06 931.91 L641.35 931.68 L642.65 931.46 L643.95 931.26 L645.26 931.05 L646.57 930.85 L647.89 930.66 L649.2 930.45 L650.56 930.24 L651.92 930.04 L653.29 929.85 L654.66 929.66 L656.04 929.47 L657.42 929.28 L658.8 929.1 L660.18 928.91 L661.56 928.73 L662.93 928.54" stroke="#007a00" stroke-width="2.9" fill="none" stroke-linejoin="round" stroke-linecap="butt" clip-path="url(#cc)" stroke-dasharray="6 6.4"/>
<path d="M360.49 910.54 L361.71 910.65 L362.93 910.76 L364.15 910.85 L365.37 910.95 L366.59 911.04 L367.81 911.15 L369.03 911.27 L370.25 911.42 L371.46 911.59 L372.67 911.79 L373.9 912.04 L375.14 912.31 L376.38 912.62 L377.61 912.94 L378.85 913.28 L380.07 913.63 L381.28 914 L382.48 914.36 L383.65 914.72 L384.81 915.08 L385.83 915.4 L386.84 915.72 L387.84 916.03 L388.83 916.35 L389.8 916.67 L390.76 917.01 L391.72 917.35 L392.66 917.71 L393.6 918.09 L394.52 918.49 L395.42 918.9 L396.31 919.32 L397.2 919.76 L398.08 920.21 L398.95 920.67 L399.81 921.15 L400.64 921.63 L401.46 922.13 L402.26 922.64 L403.03 923.16 L403.71 923.63 L404.37 924.11 L405.01 924.59 L405.64 925.09 L406.25 925.59 L406.84 926.1 L407.44 926.64 L408.02 927.19 L408.6 927.76 L409.18 928.36 L409.82 929.05 L410.45 929.78 L411.07 930.53 L411.68 931.31 L412.28 932.11 L412.87 932.92 L413.46 933.75 L414.05 934.58 L414.64 935.42 L415.22 936.25 L415.84 937.13 L416.46 938 L417.07 938.88 L417.68 939.76 L418.29 940.65 L418.89 941.57 L419.48 942.52 L420.07 943.49 L420.64 944.51 L421.21 945.58 L421.9 947.02 L422.6 948.56 L423.29 950.19 L423.97 951.88 L424.63 953.61 L425.28 955.34 L425.9 957.05 L426.49 958.71 L427.05 960.3 L427.57 961.79 L427.95 962.87 L428.31 963.91 L428.64 964.91 L428.96 965.89 L429.27 966.86 L429.56 967.81 L429.85 968.77 L430.14 969.73 L430.42 970.71 L430.7 971.71 L431 972.78 L431.28 973.86 L431.56 974.95 L431.83 976.05 L432.1 977.15 L432.36 978.25 L432.62 979.35 L432.88 980.44 L433.14 981.52 L433.39 982.6 L433.63 983.61 L433.86 984.62 L434.09 985.63 L434.31 986.63 L434.53 987.63 L434.75 988.62 L434.98 989.61 L435.21 990.6 L435.45 991.59 L435.7 992.58 L435.96 993.57 L436.23 994.55 L436.51 995.53 L436.79 996.51 L437.08 997.49 L437.36 998.47 L437.65 999.45 L437.94 1000.43 L438.22 1001.41 L438.5 1002.39 L438.77 1003.39 L439.04 1004.41 L439.31 1005.44 L439.58 1006.47 L439.85 1007.5 L440.11 1008.51 L440.38 1009.52 L440.65 1010.5 L440.92 1011.45 L441.19 1012.38 L441.42 1013.14 L441.65 1013.89 L441.87 1014.64 L442.1 1015.37 L442.33 1016.09 L442.56 1016.79 L442.79 1017.47 L443.02 1018.11 L443.26 1018.73 L443.49 1019.31 L443.67 1019.74 L443.83 1020.19 L444 1020.64 L444.17 1021.09 L444.34 1021.51 L444.51 1021.9 L444.69 1022.23 L444.87 1022.48 L445.06 1022.65 L445.25 1022.72 L445.46 1022.68 L445.69 1022.52 L445.92 1022.28 L446.15 1021.95 L446.39 1021.57 L446.63 1021.14 L446.87 1020.69 L447.11 1020.22 L447.34 1019.76 L447.56 1019.31 L447.86 1018.67 L448.15 1017.96 L448.44 1017.21 L448.72 1016.42 L448.99 1015.59 L449.26 1014.75 L449.53 1013.9 L449.8 1013.04 L450.08 1012.19 L450.36 1011.36 L450.66 1010.49 L450.96 1009.6 L451.27 1008.71 L451.57 1007.81 L451.88 1006.91 L452.18 1006 L452.49 1005.1 L452.8 1004.19 L453.12 1003.29 L453.43 1002.39 L453.75 1001.5 L454.06 1000.6 L454.38 999.71 L454.7 998.82 L455.02 997.93 L455.34 997.03 L455.67 996.14 L456 995.26 L456.33 994.37 L456.67 993.48 L457.01 992.59 L457.35 991.69 L457.69 990.78 L458.04 989.88 L458.38 988.98 L458.74 988.09 L459.11 987.2 L459.49 986.33 L459.88 985.47 L460.29 984.63 L460.71 983.84 L461.13 983.06 L461.57 982.29 L462.02 981.53 L462.47 980.78 L462.94 980.03 L463.42 979.3 L463.91 978.58 L464.4 977.86 L464.91 977.16 L465.4 976.47 L465.91 975.8 L466.43 975.14 L466.95 974.48 L467.48 973.84 L468.03 973.2 L468.58 972.56 L469.14 971.94 L469.71 971.31 L470.29 970.7 L470.89 970.07 L471.5 969.45 L472.13 968.83 L472.76 968.23 L473.4 967.62 L474.06 967.03 L474.72 966.44 L475.39 965.86 L476.07 965.28 L476.76 964.72 L477.48 964.13 L478.21 963.54 L478.94 962.95 L479.68 962.37 L480.43 961.8 L481.2 961.24 L481.98 960.71 L482.78 960.2 L483.6 959.72 L484.45 959.28 L485.38 958.85 L486.34 958.46 L487.32 958.1 L488.33 957.78 L489.35 957.47 L490.38 957.19 L491.43 956.91 L492.47 956.64 L493.52 956.38 L494.55 956.11 L495.61 955.83 L496.67 955.56 L497.75 955.3 L498.83 955.04 L499.91 954.8 L500.99 954.56 L502.07 954.33 L503.14 954.12 L504.21 953.91 L505.26 953.71 L506.23 953.54 L507.2 953.39 L508.16 953.24 L509.11 953.11 L510.06 952.98 L511.01 952.86 L511.96 952.74 L512.91 952.61 L513.86 952.48 L514.81 952.34 L515.77 952.2 L516.73 952.06 L517.7 951.93 L518.67 951.8 L519.63 951.66 L520.6 951.52 L521.55 951.36 L522.5 951.19 L523.44 951 L524.36 950.78 L525.23 950.56 L526.09 950.32 L526.93 950.06 L527.76 949.79 L528.59 949.51 L529.41 949.22 L530.25 948.91 L531.09 948.59 L531.94 948.26 L532.82 947.91 L533.84 947.5 L534.87 947.05 L535.92 946.58 L536.98 946.09 L538.05 945.58 L539.12 945.07 L540.2 944.56 L541.27 944.05 L542.34 943.55 L543.41 943.07 L544.48 942.59 L545.55 942.11 L546.61 941.63 L547.68 941.15 L548.75 940.68 L549.83 940.21 L550.9 939.74 L551.97 939.29 L553.04 938.84 L554.12 938.4 L555.17 937.98 L556.23 937.57 L557.28 937.15 L558.34 936.74 L559.4 936.34 L560.46 935.95 L561.52 935.58 L562.58 935.23 L563.64 934.89 L564.71 934.58 L565.77 934.29 L566.84 934.02 L567.91 933.77 L568.99 933.53 L570.07 933.31 L571.14 933.1 L572.2 932.91 L573.26 932.73 L574.29 932.57 L575.31 932.42 L576.19 932.31 L577.07 932.2 L577.92 932.1 L578.77 932.01 L579.62 931.94 L580.45 931.88 L581.29 931.83 L582.13 931.8 L582.97 931.77 L583.82 931.77 L584.67 931.77 L585.51 931.79 L586.35 931.82 L587.19 931.86 L588.02 931.92 L588.87 931.99 L589.73 932.08 L590.59 932.18 L591.48 932.29 L592.38 932.42 L593.49 932.6 L594.62 932.78 L595.79 932.99 L596.98 933.21 L598.17 933.46 L599.37 933.73 L600.57 934.03 L601.74 934.36 L602.9 934.72 L604.02 935.12 L605.11 935.54 L606.19 935.99 L607.25 936.46 L608.31 936.97 L609.35 937.5 L610.38 938.07 L611.4 938.66 L612.41 939.3 L613.41 939.97 L614.4 940.68 L615.5 941.51 L616.61 942.4 L617.72 943.33 L618.82 944.31 L619.9 945.33 L620.95 946.38 L621.97 947.47 L622.94 948.59 L623.86 949.73 L624.72 950.9 L625.52 952.12 L626.27 953.39 L626.96 954.69 L627.61 956.03 L628.22 957.39 L628.8 958.78 L629.36 960.19 L629.89 961.61 L630.41 963.04 L630.92 964.48 L631.44 965.98 L631.92 967.48 L632.37 968.99 L632.8 970.52 L633.2 972.06 L633.59 973.64 L633.97 975.24 L634.35 976.89 L634.72 978.58 L635.1 980.32 L635.56 982.56 L636.02 984.87 L636.47 987.25 L636.91 989.69 L637.33 992.18 L637.75 994.71 L638.15 997.28 L638.54 999.88 L638.91 1002.51 L639.27 1005.14 L639.65 1008.15 L640.02 1011.22 L640.38 1014.36 L640.71 1017.53 L641.03 1020.74 L641.33 1023.96 L641.62 1027.2 L641.89 1030.43 L642.15 1033.65 L642.4 1036.84 L642.63 1039.99 L642.83 1043.14 L643.03 1046.29 L643.2 1049.44 L643.37 1052.58 L643.52 1055.74 L643.66 1058.9 L643.79 1062.07 L643.92 1065.26 L644.04 1068.47 L644.16 1071.75 L644.27 1074.95 L644.37 1078.11 L644.45 1081.28 L644.53 1084.48 L644.6 1087.75 L644.67 1091.14 L644.74 1094.67 L644.8 1098.38 L644.87 1102.32 L644.96 1109.36 L645.04 1117.97 L645.12 1127.61 L645.18 1137.73 L645.24 1147.79 L645.3 1157.24 L645.35 1165.54 L645.41 1172.15 L645.47 1176.51 L645.53 1178.08 L645.58 1176.51 L645.63 1172.15 L645.68 1165.54 L645.72 1157.24 L645.76 1147.79 L645.81 1137.73 L645.87 1127.61 L645.94 1117.97 L646.02 1109.36 L646.13 1102.32 L646.21 1098.4 L646.29 1094.72 L646.38 1091.24 L646.47 1087.91 L646.56 1084.68 L646.67 1081.51 L646.78 1078.36 L646.9 1075.16 L647.03 1071.88 L647.17 1068.47 L647.33 1064.72 L647.5 1060.91 L647.67 1057.05 L647.85 1053.17 L648.05 1049.28 L648.26 1045.38 L648.48 1041.5 L648.72 1037.64 L648.98 1033.83 L649.26 1030.08 L649.54 1026.58 L649.83 1023.09 L650.14 1019.63 L650.45 1016.19 L650.79 1012.76 L651.14 1009.37 L651.51 1005.99 L651.91 1002.65 L652.33 999.34 L652.77 996.05 L653.21 992.99 L653.65 989.92 L654.11 986.85 L654.59 983.8 L655.09 980.79 L655.61 977.82 L656.16 974.92 L656.74 972.1 L657.35 969.37 L657.99 966.75 L658.52 964.71 L659.07 962.69 L659.63 960.7 L660.21 958.76 L660.81 956.87 L661.43 955.05 L662.08 953.31 L662.75 951.65 L663.46 950.09 L664.19 948.63 L664.75 947.66 L665.33 946.76 L665.94 945.93 L666.55 945.14 L667.18 944.38 L667.82 943.65 L668.45 942.93 L669.09 942.2 L669.72 941.45 L670.34 940.68" stroke="#00009a" stroke-width="2.9" fill="none" stroke-linejoin="round" stroke-linecap="butt" clip-path="url(#cc)" stroke-dasharray="6 5.4"/>
<path d="M355.33 911.08 L356.9 911.15 L358.48 911.21 L360.07 911.26 L361.66 911.3 L363.25 911.35 L364.83 911.41 L366.4 911.5 L367.96 911.61 L369.5 911.77 L371.03 911.97 L372.48 912.21 L373.93 912.47 L375.38 912.76 L376.82 913.08 L378.25 913.42 L379.66 913.79 L381.04 914.18 L382.4 914.59 L383.73 915.04 L385.03 915.5 L386.17 915.94 L387.3 916.4 L388.41 916.87 L389.51 917.37 L390.58 917.89 L391.62 918.43 L392.64 918.99 L393.63 919.57 L394.59 920.19 L395.51 920.82 L396.32 921.43 L397.1 922.06 L397.84 922.71 L398.56 923.37 L399.26 924.06 L399.94 924.77 L400.6 925.5 L401.27 926.25 L401.93 927.02 L402.59 927.82 L403.35 928.75 L404.1 929.7 L404.84 930.69 L405.58 931.7 L406.31 932.74 L407.02 933.8 L407.71 934.89 L408.37 936 L409.01 937.13 L409.62 938.29 L410.25 939.57 L410.84 940.88 L411.39 942.23 L411.93 943.6 L412.43 945 L412.92 946.42 L413.4 947.86 L413.86 949.32 L414.32 950.79 L414.78 952.28 L415.28 953.94 L415.76 955.64 L416.23 957.37 L416.68 959.12 L417.12 960.89 L417.54 962.68 L417.96 964.47 L418.37 966.25 L418.78 968.03 L419.17 969.8 L419.56 971.56 L419.94 973.35 L420.3 975.15 L420.66 976.95 L421.01 978.75 L421.35 980.53 L421.69 982.29 L422.02 984.02 L422.36 985.7 L422.69 987.32 L422.96 988.66 L423.24 990.01 L423.51 991.36 L423.78 992.68 L424.05 993.98 L424.32 995.23 L424.58 996.43 L424.83 997.56 L425.08 998.62 L425.32 999.58 L425.47 1000.16 L425.6 1000.75 L425.74 1001.35 L425.87 1001.94 L426 1002.49 L426.13 1002.98 L426.26 1003.4 L426.4 1003.72 L426.54 1003.93 L426.7 1004.01 L426.88 1003.9 L427.08 1003.61 L427.28 1003.16 L427.48 1002.57 L427.69 1001.89 L427.91 1001.12 L428.12 1000.32 L428.34 999.49 L428.56 998.68 L428.78 997.91 L429.11 996.74 L429.45 995.47 L429.78 994.13 L430.12 992.72 L430.47 991.26 L430.82 989.77 L431.18 988.26 L431.55 986.75 L431.92 985.26 L432.3 983.79 L432.7 982.24 L433.11 980.65 L433.53 979.04 L433.96 977.42 L434.39 975.8 L434.83 974.19 L435.28 972.6 L435.74 971.06 L436.21 969.56 L436.69 968.13 L437.09 966.97 L437.48 965.85 L437.88 964.76 L438.28 963.69 L438.69 962.65 L439.12 961.62 L439.56 960.61 L440.03 959.6 L440.54 958.6 L441.08 957.6 L441.67 956.58 L442.29 955.56 L442.94 954.56 L443.62 953.56 L444.32 952.58 L445.04 951.61 L445.78 950.66 L446.54 949.72 L447.32 948.81 L448.11 947.91 L448.91 947.03 L449.75 946.14 L450.61 945.26 L451.49 944.39 L452.38 943.54 L453.29 942.73 L454.2 941.96 L455.1 941.24 L456 940.59 L456.89 940.02 L457.59 939.62 L458.3 939.26 L459.01 938.95 L459.72 938.67 L460.42 938.41 L461.13 938.19 L461.83 937.97 L462.53 937.77 L463.23 937.58 L463.92 937.39 L464.54 937.22 L465.15 937.08 L465.75 936.96 L466.35 936.85 L466.95 936.75 L467.55 936.65 L468.15 936.55 L468.76 936.44 L469.38 936.33 L470.01 936.19 L470.73 936.02 L471.45 935.82 L472.17 935.62 L472.91 935.4 L473.65 935.18 L474.4 934.96 L475.16 934.76 L475.92 934.57 L476.7 934.41 L477.48 934.28 L478.33 934.17 L479.19 934.08 L480.07 934.01 L480.96 933.96 L481.85 933.93 L482.75 933.91 L483.64 933.9 L484.54 933.9 L485.43 933.91 L486.32 933.92 L487.18 933.94 L488.04 933.98 L488.9 934.02 L489.75 934.08 L490.61 934.15 L491.47 934.22 L492.33 934.3 L493.21 934.39 L494.09 934.48 L494.99 934.58 L496 934.7 L497.04 934.83 L498.08 934.99 L499.14 935.15 L500.21 935.32 L501.28 935.48 L502.34 935.64 L503.4 935.78 L504.45 935.91 L505.48 936.01 L506.43 936.09 L507.37 936.16 L508.3 936.21 L509.23 936.26 L510.15 936.3 L511.08 936.32 L512 936.35 L512.93 936.36 L513.87 936.37 L514.81 936.37 L515.8 936.37 L516.8 936.37 L517.8 936.36 L518.82 936.34 L519.83 936.31 L520.84 936.28 L521.84 936.23 L522.84 936.17 L523.83 936.1 L524.8 936.01 L525.71 935.92 L526.6 935.8 L527.49 935.68 L528.36 935.55 L529.24 935.4 L530.11 935.25 L530.98 935.09 L531.84 934.92 L532.71 934.75 L533.59 934.58 L534.46 934.4 L535.32 934.2 L536.18 934.01 L537.04 933.8 L537.9 933.59 L538.77 933.37 L539.64 933.15 L540.52 932.93 L541.41 932.71 L542.31 932.48 L543.33 932.23 L544.37 931.96 L545.42 931.68 L546.48 931.4 L547.54 931.11 L548.62 930.83 L549.69 930.57 L550.77 930.33 L551.84 930.1 L552.91 929.91 L553.97 929.76 L555.05 929.62 L556.15 929.5 L557.25 929.41 L558.35 929.32 L559.43 929.25 L560.48 929.19 L561.5 929.13 L562.48 929.07 L563.4 929.02 L564.04 928.97 L564.65 928.91 L565.23 928.86 L565.8 928.8 L566.36 928.75 L566.9 928.71 L567.45 928.69 L567.99 928.69 L568.54 928.72 L569.11 928.78 L569.7 928.87 L570.3 928.99 L570.89 929.14 L571.48 929.31 L572.07 929.5 L572.67 929.71 L573.26 929.92 L573.87 930.15 L574.47 930.39 L575.09 930.63 L575.8 930.91 L576.54 931.2 L577.28 931.5 L578.03 931.81 L578.79 932.15 L579.54 932.49 L580.28 932.86 L581 933.25 L581.71 933.66 L582.39 934.1 L583.06 934.57 L583.71 935.06 L584.36 935.58 L584.99 936.13 L585.6 936.69 L586.2 937.27 L586.79 937.86 L587.37 938.47 L587.93 939.09 L588.49 939.72 L589.04 940.38 L589.57 941.06 L590.08 941.75 L590.59 942.46 L591.07 943.18 L591.55 943.92 L592.03 944.67 L592.49 945.44 L592.96 946.22 L593.43 947.02 L593.95 947.92 L594.47 948.85 L594.99 949.8 L595.5 950.76 L596 951.74 L596.49 952.74 L596.97 953.76 L597.44 954.79 L597.88 955.83 L598.31 956.88 L598.75 958.03 L599.17 959.19 L599.57 960.37 L599.95 961.56 L600.32 962.77 L600.67 964 L601.01 965.25 L601.34 966.54 L601.67 967.85 L601.99 969.2 L602.37 970.87 L602.72 972.59 L603.06 974.35 L603.39 976.16 L603.7 978 L604 979.87 L604.29 981.77 L604.58 983.7 L604.85 985.65 L605.12 987.62 L605.42 989.93 L605.7 992.3 L605.97 994.73 L606.23 997.19 L606.47 999.68 L606.71 1002.19 L606.94 1004.71 L607.16 1007.22 L607.38 1009.72 L607.59 1012.2 L607.8 1014.64 L608 1017.07 L608.19 1019.48 L608.38 1021.9 L608.56 1024.32 L608.73 1026.75 L608.9 1029.19 L609.07 1031.67 L609.24 1034.17 L609.4 1036.72 L609.58 1039.82 L609.75 1043.38 L609.91 1047.22 L610.07 1051.14 L610.23 1054.97 L610.39 1058.52 L610.54 1061.6 L610.69 1064.03 L610.84 1065.63 L610.99 1066.2 L611.14 1065.62 L611.29 1064.03 L611.43 1061.6 L611.57 1058.52 L611.71 1054.97 L611.85 1051.14 L612 1047.22 L612.15 1043.38 L612.31 1039.82 L612.48 1036.72 L612.64 1034.17 L612.8 1031.67 L612.97 1029.19 L613.14 1026.74 L613.31 1024.31 L613.49 1021.9 L613.68 1019.48 L613.87 1017.07 L614.08 1014.64 L614.29 1012.2 L614.51 1009.72 L614.73 1007.22 L614.96 1004.71 L615.2 1002.19 L615.44 999.68 L615.69 997.19 L615.95 994.73 L616.23 992.3 L616.51 989.93 L616.81 987.62 L617.08 985.66 L617.36 983.74 L617.65 981.85 L617.95 979.99 L618.25 978.15 L618.56 976.34 L618.88 974.54 L619.21 972.75 L619.54 970.98 L619.89 969.2 L620.22 967.54 L620.55 965.89 L620.89 964.26 L621.24 962.63 L621.59 961.02 L621.95 959.42 L622.33 957.83 L622.71 956.26 L623.1 954.71 L623.51 953.18 L623.89 951.76 L624.27 950.36 L624.65 948.96 L625.03 947.57 L625.43 946.2 L625.85 944.85 L626.29 943.52 L626.75 942.22 L627.25 940.95 L627.79 939.72 L628.32 938.61 L628.89 937.51 L629.49 936.41 L630.11 935.33 L630.75 934.28 L631.4 933.27 L632.05 932.31 L632.71 931.4 L633.36 930.56 L634 929.79 L634.44 929.3 L634.89 928.85 L635.34 928.43 L635.79 928.03 L636.24 927.66 L636.69 927.31 L637.14 926.98 L637.59 926.66 L638.05 926.34 L638.5 926.03 L638.9 925.75 L639.29 925.5 L639.68 925.27 L640.06 925.04 L640.45 924.83 L640.85 924.61 L641.26 924.4 L641.69 924.17 L642.14 923.94 L642.62 923.69 L643.34 923.31 L644.1 922.9 L644.9 922.47 L645.74 922.02 L646.6 921.58 L647.49 921.13 L648.4 920.71 L649.32 920.31 L650.25 919.95 L651.18 919.63 L652.21 919.33 L653.26 919.07 L654.34 918.84 L655.44 918.65 L656.55 918.47 L657.67 918.32 L658.8 918.17 L659.94 918.04 L661.08 917.91 L662.22 917.77 L663.41 917.64 L664.61 917.53 L665.82 917.43 L667.04 917.34 L668.27 917.26 L669.5 917.18 L670.73 917.11 L671.96 917.04 L673.18 916.96 L674.4 916.88" stroke="#e20404" stroke-width="2.9" fill="none" stroke-linejoin="round" stroke-linecap="round" clip-path="url(#cc)"/>
<path d="M350 910H674.46V1173.6" stroke="#333" stroke-width="1.3" fill="none"/>
<path d="M350 909.4V1173.6H675.06" stroke="#111" stroke-width="1.7" fill="none"/>
<path d="M350 1173.6v4.8M404.9 1173.6v4.8M459.8 1173.6v4.8M514.7 1173.6v4.8M569.6 1173.6v4.8M624.5 1173.6v4.8M377.45 1173.6v2.7M432.35 1173.6v2.7M487.25 1173.6v2.7M542.15 1173.6v2.7M597.05 1173.6v2.7M651.95 1173.6v2.7M350 910h-4.8M350 969.8h-4.8M350 1029.6h-4.8M350 1089.4h-4.8M350 1149.2h-4.8M350 939.9h-2.7M350 999.7h-2.7M350 1059.5h-2.7M350 1119.3h-2.7" stroke="#111" stroke-width="1.3" fill="none"/>
<g font-family="Liberation Sans" font-weight="bold" stroke="#111" stroke-width="0.3" font-size="11.1" fill="#111"><text x="340.6" y="913.5" text-anchor="end">0</text><text x="340.6" y="973.3" text-anchor="end">-10</text><text x="340.6" y="1033.1" text-anchor="end">-20</text><text x="340.6" y="1092.9" text-anchor="end">-30</text><text x="340.6" y="1152.7" text-anchor="end">-40</text><text x="350" y="1191.2" text-anchor="middle">1</text><text x="404.9" y="1191.2" text-anchor="middle">2</text><text x="459.8" y="1191.2" text-anchor="middle">3</text><text x="514.7" y="1191.2" text-anchor="middle">4</text><text x="569.6" y="1191.2" text-anchor="middle">5</text><text x="624.5" y="1191.2" text-anchor="middle">6</text></g>
<text x="512.23" y="1212.8" text-anchor="middle" font-family="Liberation Sans" font-weight="bold" stroke="#111" stroke-width="0.3" font-size="11.9" fill="#111">Frequency (GHz)</text>
<text transform="translate(304.3 1044.4) rotate(-90)" text-anchor="middle" font-family="Liberation Sans" font-weight="bold" stroke="#111" stroke-width="0.3" font-size="12.85" fill="#111">S<tspan font-size="7.07" dy="5.4" dx="0.6">11</tspan><tspan dy="-5.4" dx="-0.5">(dB)</tspan></text>
<path d="M471.3 1131.3H499" stroke="#007a00" stroke-width="2.7" stroke-linecap="butt" fill="none" stroke-dasharray="6.5 4.3"/>
<text x="503" y="1135.3" font-family="Liberation Sans" font-weight="bold" stroke="#111" stroke-width="0.3" font-size="11.9" fill="#111">Design 1</text>
<path d="M471.3 1146.2H499" stroke="#00009a" stroke-width="2.7" stroke-linecap="butt" fill="none" stroke-dasharray="6.5 4.3"/>
<text x="503" y="1150.2" font-family="Liberation Sans" font-weight="bold" stroke="#111" stroke-width="0.3" font-size="11.9" fill="#111">Design 2</text>
<path d="M472.6 1161.4H498.8" stroke="#e20404" stroke-width="2.7" stroke-linecap="round" fill="none"/>
<text x="503" y="1165.4" font-family="Liberation Sans" font-weight="bold" stroke="#111" stroke-width="0.3" font-size="11.9" fill="#111">Proposed Design</text>
</svg>
</body></html>
